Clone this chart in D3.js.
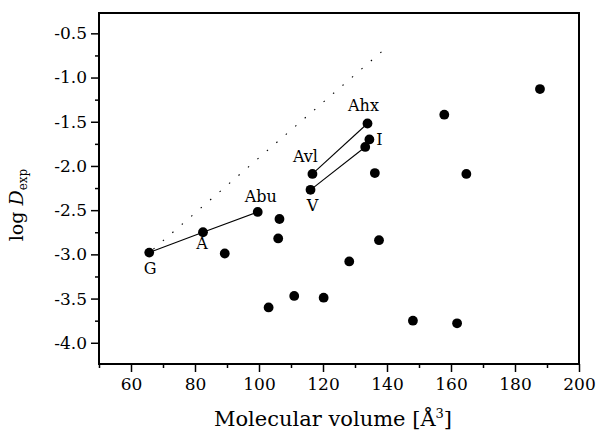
<!DOCTYPE html>
<html>
<head>
<meta charset="utf-8">
<script src="https://cdn.jsdelivr.net/npm/d3@7"></script>
<style>
  body { margin: 0; background: #fff; }
  svg text { font-family: "DejaVu Serif", "Liberation Serif", serif; fill: #000; }
</style>
</head>
<body>
<svg id="chart" width="599" height="437"></svg>
<script>
// molecular volume [A^3] and log D_exp
var v_Volume = [65.7, 82.5, 99.6, 89.3, 106.4, 106.0, 116.7, 116.1, 133.9, 134.5, 133.2,
                136.2, 137.5, 128.2, 157.9, 164.8, 187.8, 120.2, 111.0, 103.0, 148.1, 161.9];
var v_LogD   = [-2.98, -2.75, -2.52, -2.99, -2.60, -2.82, -2.09, -2.27, -1.52, -1.70, -1.785,
                -2.08, -2.84, -3.08, -1.42, -2.09, -1.13, -3.49, -3.47, -3.60, -3.75, -3.78];
var v_Names  = ["G", "A", "Abu", "", "", "", "Avl", "V", "Ahx", "I", "",
                "", "", "", "", "", "", "", "", "", "", ""];

// connected series (indexes into the arrays above)
var v_Series = [[0, 1, 2], [6, 8], [7, 10]];

// dotted upper bound line
var v_BoundX = [67.0, 140.0];
var v_BoundY = [-2.94, -0.655];

var v_XTicks      = [60, 80, 100, 120, 140, 160, 180, 200];
var v_XMinorTicks = [50, 70, 90, 110, 130, 150, 170, 190];
var v_YTicks      = [-4.0, -3.5, -3.0, -2.5, -2.0, -1.5, -1.0, -0.5];
var v_YMinorTicks = [-3.75, -3.25, -2.75, -2.25, -1.75, -1.25, -0.75];

// label offsets around the point (layout only)
var v_LabelPos = {
    "G":   [1, 21],
    "A":   [-1, 17],
    "Abu": [3, -10],
    "Avl": [-7, -12],
    "V":   [2, 21],
    "Ahx": [-4, -13],
    "I":   [10, 6]
};

var v_SVG = d3.select("#chart");
var x = d3.scaleLinear().domain([50, 200]).range([99, 579]);
var y = d3.scaleLinear().domain([-4.24, -0.27]).range([364, 13]);

// frame
v_SVG.append("rect")
    .attr("x", 99).attr("y", 13)
    .attr("width", 480).attr("height", 351)
    .attr("fill", "none").attr("stroke", "#000").attr("stroke-width", 2);

// x axis
v_SVG.append("g").attr("transform", "translate(0,364)")
    .call(d3.axisBottom(x).tickValues(v_XTicks).tickSize(8).tickPadding(6).tickFormat(d => d.toFixed(0)));
v_SVG.append("g").attr("transform", "translate(0,364)")
    .call(d3.axisBottom(x).tickValues(v_XMinorTicks).tickSize(4).tickFormat(""));

// y axis
v_SVG.append("g").attr("transform", "translate(99,0)")
    .call(d3.axisLeft(y).tickValues(v_YTicks).tickSize(8).tickPadding(4).tickFormat(d => d.toFixed(1)));
v_SVG.append("g").attr("transform", "translate(99,0)")
    .call(d3.axisLeft(y).tickValues(v_YMinorTicks).tickSize(4).tickFormat(""));

v_SVG.selectAll(".domain").remove();
v_SVG.selectAll(".tick line").attr("stroke", "#000").attr("stroke-width", 1.5);
v_SVG.selectAll(".tick text").attr("font-size", 17).attr("fill", "#000");

// dotted line
v_SVG.append("line")
    .attr("x1", x(v_BoundX[0])).attr("y1", y(v_BoundY[0]))
    .attr("x2", x(v_BoundX[1])).attr("y2", y(v_BoundY[1]))
    .attr("stroke", "#000").attr("stroke-width", 1.1)
    .attr("stroke-dasharray", "1.5,11");

// connecting lines
var v_Line = d3.line().x(i => x(v_Volume[i])).y(i => y(v_LogD[i]));
v_SVG.selectAll(".series").data(v_Series).enter().append("path")
    .attr("d", v_Line)
    .attr("fill", "none").attr("stroke", "#000").attr("stroke-width", 1.1);

// points
v_SVG.selectAll(".pt").data(d3.range(v_Volume.length)).enter().append("circle")
    .attr("cx", i => x(v_Volume[i]))
    .attr("cy", i => y(v_LogD[i]))
    .attr("r", 4.9)
    .attr("fill", "#000");

// point labels
v_SVG.selectAll(".lbl").data(d3.range(v_Names.length).filter(i => v_Names[i] != "")).enter().append("text")
    .attr("x", i => x(v_Volume[i]) + v_LabelPos[v_Names[i]][0])
    .attr("y", i => y(v_LogD[i]) + v_LabelPos[v_Names[i]][1])
    .attr("text-anchor", "middle")
    .attr("font-size", 16)
    .text(i => v_Names[i]);

// axis titles
var v_XTitle = v_SVG.append("text")
    .attr("x", 333).attr("y", 426)
    .attr("text-anchor", "middle").attr("font-size", 21);
v_XTitle.append("tspan").text("Molecular volume [Å");
v_XTitle.append("tspan").attr("dy", -8).attr("font-size", 13).text("3");
v_XTitle.append("tspan").attr("dy", 8).text("]");

var v_YTitle = v_SVG.append("text")
    .attr("transform", "translate(23,205) rotate(-90)")
    .attr("text-anchor", "middle").attr("font-size", 19);
v_YTitle.append("tspan").text("log ");
v_YTitle.append("tspan").attr("font-style", "italic").text("D");
v_YTitle.append("tspan").attr("dy", 4).attr("font-size", 12).text("exp");
</script>
</body>
</html>
